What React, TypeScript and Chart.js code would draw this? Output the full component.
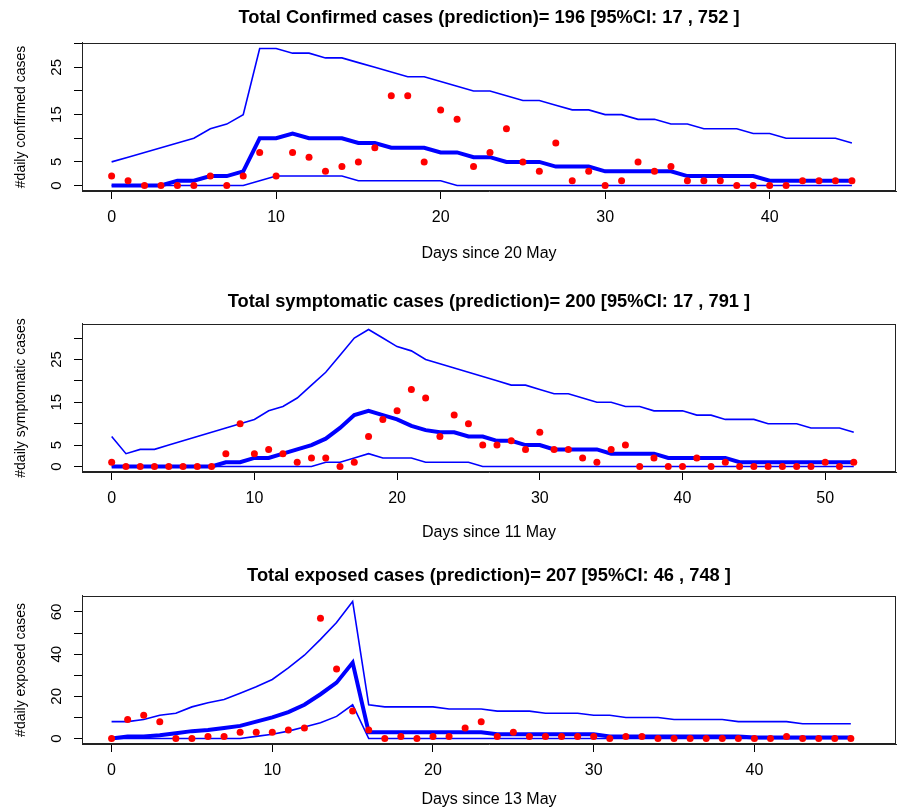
import React, { useEffect, useRef } from "react";
import { Chart, registerables } from "chart.js";

Chart.register(...registerables);

const FONT = "'Liberation Sans', Arial, Helvetica, sans-serif";
const BLUE = "#0000ff";
const RED = "#ff0000";

// ---------- Panel 1: confirmed cases (days since 20 May), days 0..45
const confObserved = [2, 1, 0, 0, 0, 0, 2, 0, 2, 7, 2, 7, 6, 3, 4, 5, 8, 19, 19, 5, 16, 14, 4, 7, 12, 5, 3, 9, 1, 3, 0, 1, 5, 3, 4, 1, 1, 1, 0, 0, 0, 0, 1, 1, 1, 1];
const confMedian = [0, 0, 0, 0, 1, 1, 2, 2, 3, 10, 10, 11, 10, 10, 10, 9, 9, 8, 8, 8, 7, 7, 6, 6, 5, 5, 5, 4, 4, 4, 3, 3, 3, 3, 3, 2, 2, 2, 2, 2, 1, 1, 1, 1, 1, 1];
const confUpper = [5, 6, 7, 8, 9, 10, 12, 13, 15, 29, 29, 28, 28, 27, 27, 26, 25, 24, 23, 23, 22, 21, 20, 20, 19, 18, 18, 17, 16, 16, 15, 15, 14, 14, 13, 13, 12, 12, 12, 11, 11, 10, 10, 10, 10, 9];
const confLower = [0, 0, 0, 0, 0, 0, 0, 0, 0, 1, 2, 2, 2, 2, 2, 1, 1, 1, 1, 1, 1, 0, 0, 0, 0, 0, 0, 0, 0, 0, 0, 0, 0, 0, 0, 0, 0, 0, 0, 0, 0, 0, 0, 0, 0, 0];
const confXTicks = [0, 10, 20, 30, 40];
const confYTicks = [0, 5, 10, 15, 20, 25, 30];
const confYLabels = ["0", "5", "", "15", "", "25", ""];

// ---------- Panel 2: symptomatic cases (days since 11 May), days 0..52
const sympObserved = [1, 0, 0, 0, 0, 0, 0, 0, 3, 10, 3, 4, 3, 1, 2, 2, 0, 1, 7, 11, 13, 18, 16, 7, 12, 10, 5, 5, 6, 4, 8, 4, 4, 2, 1, 4, 5, 0, 2, 0, 0, 2, 0, 1, 0, 0, 0, 0, 0, 0, 1, 0, 1];
const sympMedian = [0, 0, 0, 0, 0, 0, 0, 0, 1, 1, 2, 2, 3, 4, 5, 6.5, 9, 12, 13, 12, 11, 9.5, 8.5, 8, 8, 7, 7, 6, 6, 5, 5, 4, 4, 4, 4, 3, 3, 3, 3, 2, 2, 2, 2, 2, 1, 1, 1, 1, 1, 1, 1, 1, 1];
const sympUpper = [7, 3, 4, 4, 5, 6, 7, 8, 9, 10, 11, 13, 14, 16, 19, 22, 26, 30, 32, 30, 28, 27, 25, 24, 23, 22, 21, 20, 19, 19, 18, 17, 17, 16, 15, 15, 14, 14, 13, 13, 13, 12, 12, 11, 11, 11, 10, 10, 10, 9, 9, 9, 8];
const sympLower = [0, 0, 0, 0, 0, 0, 0, 0, 0, 0, 0, 0, 0, 0, 0, 1, 1, 2, 3, 2, 2, 2, 1, 1, 1, 1, 0, 0, 0, 0, 0, 0, 0, 0, 0, 0, 0, 0, 0, 0, 0, 0, 0, 0, 0, 0, 0, 0, 0, 0, 0, 0, 0];
const sympXTicks = [0, 10, 20, 30, 40, 50];
const sympYTicks = [0, 5, 10, 15, 20, 25, 30];
const sympYLabels = ["0", "5", "", "15", "", "25", ""];

// ---------- Panel 3: exposed cases (days since 13 May), days 0..46
const expObserved = [0, 9, 11, 8, 0, 0, 1, 1, 3, 3, 3, 4, 5, 57, 33, 13, 4, 0, 1, 0, 1, 1, 5, 8, 1, 3, 1, 1, 1, 1, 1, 0, 1, 1, 0, 0, 0, 0, 0, 0, 0, 0, 1, 0, 0, 0, 0];
const expMedian = [0, 1, 1, 1.5, 2.5, 3.5, 4, 5, 6, 8, 10, 12.5, 16, 21, 26.5, 36, 3, 3, 3, 3, 3, 3, 3, 3, 2, 2, 2, 2, 2, 2, 2, 1, 1, 1, 1, 1, 1, 1, 1, 1, 0.5, 0.5, 0.5, 0.5, 0.5, 0.5, 0.5];
const expUpper = [8, 8, 9, 11, 12, 15, 17, 18.5, 21.5, 24.5, 28, 33.5, 39.5, 47, 55, 65, 16, 15, 15, 15, 15, 14, 14, 14, 13, 13, 13, 12, 12, 12, 11, 11, 10, 10, 10, 9, 9, 9, 9, 8, 8, 8, 8, 7, 7, 7, 7];
const expLower = [0, 0, 0, 0, 0, 0, 0, 0, 0, 1, 2, 3.5, 5.5, 7.5, 10.5, 16, 0, 0, 0, 0, 0, 0, 0, 0, 0, 0, 0, 0, 0, 0, 0, 0, 0, 0, 0, 0, 0, 0, 0, 0, 0, 0, 0, 0, 0, 0, 0];
const expXTicks = [0, 10, 20, 30, 40];
const expYTicks = [0, 10, 20, 30, 40, 50, 60];
const expYLabels = ["0", "", "20", "", "40", "", "60"];

type Spec = {
  title: string;
  xTitle: string;
  yTitle: string;
  observed: number[];
  median: number[];
  upper: number[];
  lower: number[];
  xTicks: number[];
  yTicks: number[];
  yLabels: string[];
  xMin: number;
  xMax: number;
  yMin: number;
  yMax: number;
  top: number;
  height: number;
  titlePadTop: number;
  titlePadBottom: number;
  xAxisHeight: number;
  xTitlePadBottom: number;
};

const specs: Spec[] = [
  {
    title: "Total Confirmed cases (prediction)= 196 [95%CI: 17 , 752 ]",
    xTitle: "Days since 20 May",
    yTitle: "#daily confirmed cases",
    observed: confObserved, median: confMedian, upper: confUpper, lower: confLower,
    xTicks: confXTicks, yTicks: confYTicks, yLabels: confYLabels,
    xMin: -1.8, xMax: 47.68, yMin: -1.16, yMax: 30.16,
    top: 0, height: 270, titlePadTop: 7.0, titlePadBottom: 14.0, xAxisHeight: 79, xTitlePadBottom: 6.9,
  },
  {
    title: "Total symptomatic cases (prediction)= 200 [95%CI: 17 , 791 ]",
    xTitle: "Days since 11 May",
    yTitle: "#daily symptomatic cases",
    observed: sympObserved, median: sympMedian, upper: sympUpper, lower: sympLower,
    xTicks: sympXTicks, yTicks: sympYTicks, yLabels: sympYLabels,
    xMin: -2.08, xMax: 54.96, yMin: -1.28, yMax: 33.28,
    top: 270, height: 280, titlePadTop: 21.0, titlePadBottom: 11.0, xAxisHeight: 78, xTitlePadBottom: 7.4,
  },
  {
    title: "Total exposed cases (prediction)= 207 [95%CI: 46 , 748 ]",
    xTitle: "Days since 13 May",
    yTitle: "#daily exposed cases",
    observed: expObserved, median: expMedian, upper: expUpper, lower: expLower,
    xTicks: expXTicks, yTicks: expYTicks, yLabels: expYLabels,
    xMin: -1.84, xMax: 48.81, yMin: -2.6, yMax: 67.6,
    top: 550, height: 259, titlePadTop: 15.0, titlePadBottom: 9.0, xAxisHeight: 65, xTitlePadBottom: 0,
  },
];

const boxPlugin = {
  id: "rbox",
  afterDraw(chart: any) {
    const { ctx, chartArea } = chart;
    const l = Math.round(chartArea.left) + 0.5;
    const t = Math.round(chartArea.top) + 0.5;
    const r = Math.round(chartArea.right) - 0.5;
    const b = Math.round(chartArea.bottom) - 0.5;
    ctx.save();
    ctx.strokeStyle = "#222";
    ctx.lineWidth = 1;
    ctx.strokeRect(l, t, r - l, b - t);
    ctx.restore();
  },
};

const toXY = (arr: number[]) => arr.map((v, i) => ({ x: i, y: v }));

function Panel({ spec }: { spec: Spec }) {
  const ref = useRef<HTMLCanvasElement>(null);
  useEffect(() => {
    if (!ref.current) return;
    const axisGrid = {
      drawOnChartArea: false,
      drawTicks: true,
      tickLength: 8,
      color: "#000",
      lineWidth: 1,
    };
    const chart = new Chart(ref.current, {
      type: "line",
      data: {
        datasets: [
          {
            label: "observed",
            data: toXY(spec.observed),
            showLine: false,
            pointRadius: 3.5,
            pointBackgroundColor: RED,
            pointBorderWidth: 0,
            borderColor: RED,
            backgroundColor: RED,
          },
          {
            label: "median",
            data: toXY(spec.median),
            borderColor: BLUE,
            borderWidth: 4,
            pointRadius: 0,
            tension: 0,
            fill: false,
          },
          {
            label: "upper",
            data: toXY(spec.upper),
            borderColor: BLUE,
            borderWidth: 1.6,
            pointRadius: 0,
            tension: 0,
            fill: false,
          },
          {
            label: "lower",
            data: toXY(spec.lower),
            borderColor: BLUE,
            borderWidth: 1.6,
            pointRadius: 0,
            tension: 0,
            fill: false,
          },
        ],
      },
      options: {
        animation: false,
        responsive: false,
        maintainAspectRatio: false,
        layout: { padding: { left: 0, right: 4, top: 0, bottom: 0 } },
        plugins: {
          legend: { display: false },
          tooltip: { enabled: false },
          title: {
            display: true,
            fullSize: false,
            text: spec.title,
            color: "#000",
            font: { family: FONT, size: 18.3, weight: "bold", lineHeight: 1.2 },
            padding: { top: spec.titlePadTop, bottom: spec.titlePadBottom },
          },
        },
        scales: {
          x: {
            type: "linear",
            min: spec.xMin,
            max: spec.xMax,
            afterBuildTicks: (s: any) => {
              s.ticks = spec.xTicks.map((v) => ({ value: v }));
            },
            afterFit: (s: any) => {
              s.height = spec.xAxisHeight;
            },
            grid: axisGrid,
            border: { display: true, color: "#222", width: 1 },
            ticks: {
              color: "#000",
              font: { family: FONT, size: 16 },
              padding: 8.9,
              maxRotation: 0,
              autoSkip: false,
              callback: (v: any) => String(v),
            },
            title: {
              display: true,
              text: spec.xTitle,
              color: "#000",
              font: { family: FONT, size: 16, lineHeight: 1.2 },
              padding: { top: 0, bottom: spec.xTitlePadBottom },
            },
          },
          y: {
            type: "linear",
            min: spec.yMin,
            max: spec.yMax,
            afterBuildTicks: (s: any) => {
              s.ticks = spec.yTicks.map((v) => ({ value: v }));
            },
            afterFit: (s: any) => {
              s.width = 82;
            },
            grid: axisGrid,
            border: { display: true, color: "#222", width: 1 },
            ticks: {
              color: "#000",
              font: { family: FONT, size: 15 },
              padding: 8.7,
              minRotation: 90,
              maxRotation: 90,
              crossAlign: "center",
              autoSkip: false,
              callback: (_v: any, i: number) => spec.yLabels[i],
            },
            title: {
              display: true,
              text: spec.yTitle,
              color: "#000",
              font: { family: FONT, size: 14, lineHeight: 1.2 },
              padding: { top: 12.6, bottom: 0 },
            },
          },
        },
      } as any,
      plugins: [boxPlugin],
    });
    return () => chart.destroy();
  }, [spec]);
  return (
    <canvas
      ref={ref}
      width={900}
      height={spec.height}
      style={{ position: "absolute", left: 0, top: spec.top, width: 900, height: spec.height, display: "block" }}
    />
  );
}

export default function App() {
  return (
    <div style={{ position: "absolute", left: 0, top: 0, width: 900, height: 809, background: "#fff", overflow: "hidden" }}>
      {specs.map((s, i) => (
        <Panel key={i} spec={s} />
      ))}
    </div>
  );
}
